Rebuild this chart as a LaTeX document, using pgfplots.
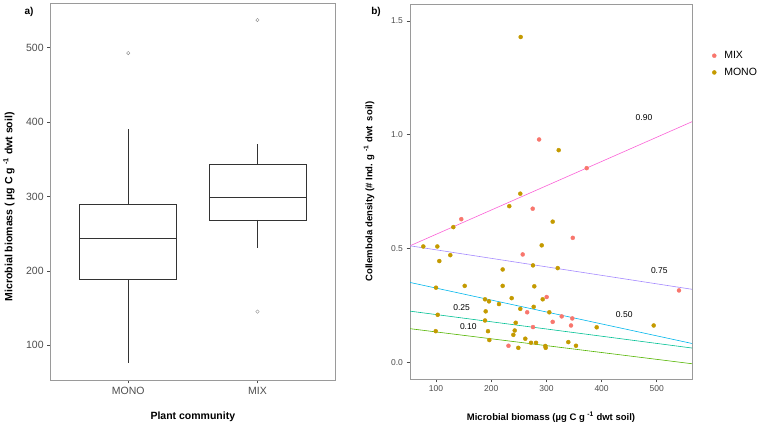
\documentclass[border=0pt]{standalone}
\usepackage{fontspec}
\setmainfont{Liberation Sans}
\usepackage{pgfplots}
\pgfplotsset{compat=1.18}
\usepgfplotslibrary{statistics}
\definecolor{mixc}{HTML}{F8766D}
\definecolor{monoc}{HTML}{C49A00}
\definecolor{qa}{HTML}{53B400}
\definecolor{qb}{HTML}{00C094}
\definecolor{qc}{HTML}{00B6EB}
\definecolor{qd}{HTML}{A58AFF}
\definecolor{qe}{HTML}{FB61D7}
\definecolor{tickc}{HTML}{4D4D4D}
\definecolor{framec}{HTML}{9A9A9A}
\definecolor{boxc}{HTML}{333333}

\pgfplotsset{
  ggstyle/.style={
    scale only axis,
    axis line style={framec, line width=0.8pt},
    tick align=outside,
    major tick length=3.5pt,
    tick style={color=black!70, line width=0.6pt},
    xtick pos=bottom, ytick pos=left,
    /pgf/number format/assume math mode=true,
    tick label style={color=tickc},
    label style={font=\bfseries\fontsize{10.5}{12}\selectfont},
  }
}

\pgfplotstableread{
x y
145.8 0.629
275.2 0.675
257.1 0.474
300.5 0.287
265.2 0.220
311.4 0.178
327.7 0.202
346.9 0.193
344.6 0.162
275.7 0.155
231.3 0.073
347.8 0.547
286.8 0.979
373.0 0.853
540.2 0.316
}\mixdata

\pgfplotstableread{
x y
232.8 0.686
311.4 0.618
131.4 0.594
77.0 0.509
102.4 0.509
291.5 0.514
125.9 0.471
106.0 0.445
275.7 0.426
320.5 0.414
220.8 0.408
100.0 0.328
152.0 0.336
220.8 0.336
278.1 0.334
237.1 0.282
188.8 0.277
196.0 0.268
293.3 0.277
214.1 0.256
277.0 0.244
252.7 0.235
190.0 0.224
305.3 0.220
103.1 0.209
188.8 0.184
244.4 0.174
194.2 0.137
99.5 0.137
242.6 0.140
240.1 0.121
261.8 0.104
196.6 0.098
272.1 0.086
281.2 0.086
249.1 0.064
298.0 0.072
298.7 0.064
339.7 0.089
353.6 0.073
391.1 0.154
494.4 0.162
253.4 1.429
322.3 0.932
252.7 0.741
}\monodata

\begin{document}
\begin{tikzpicture}
\useasboundingbox (0,0) rectangle (766pt,427pt);

\node[font=\bfseries\fontsize{10}{12}\selectfont] at (29pt,415pt) {a)};
\node[font=\bfseries\fontsize{10}{12}\selectfont] at (376pt,415pt) {b)};

\begin{axis}[ggstyle,
  at={(50.7pt,47pt)}, anchor=south west,
  width=284.3pt, height=376.7pt,
  xmin=0.4, xmax=2.6, ymin=53.4, ymax=559.7,
  xtick={1,2}, xticklabels={MONO,MIX},
  ytick={100,200,300,400,500},
  tick label style={font=\fontsize{10.5}{12}\selectfont},
  xlabel={Plant community},
  ylabel={Microbial biomass ( µg C g \textsuperscript{-1} dwt soil)},
  ylabel style={at={(axis description cs:-0.147,0.46)}, anchor=center},
  xlabel style={at={(axis description cs:0.5,-0.098)}, anchor=center},
  boxplot/draw direction=y,
]
\addplot[boxc, line width=0.7pt, mark=o, mark size=1.7pt,
  mark options={color=black!45, line width=0.4pt},
  boxplot prepared={draw position=1, box extend=0.75, whisker extend=0,
    lower whisker=75.8, lower quartile=189,
    median=243.5, upper quartile=290, upper whisker=390.6}]
  table[row sep=\\, y index=0] {data\\ 492.8\\};
\addplot[boxc, line width=0.7pt, mark=o, mark size=1.7pt,
  mark options={color=black!45, line width=0.4pt},
  boxplot prepared={draw position=2, box extend=0.75, whisker extend=0,
    lower whisker=230.5, lower quartile=268.6,
    median=298.7, upper quartile=343.5, upper whisker=370.9}]
  table[row sep=\\, y index=0] {data\\ 537.2\\ 145.3\\};
\end{axis}

\begin{axis}[ggstyle,
  at={(410pt,48pt)}, anchor=south west,
  width=282pt, height=375pt,
  xmin=52.9, xmax=563.8, ymin=-0.073, ymax=1.574,
  xtick={100,200,300,400,500},
  ytick={0,0.5,1,1.5},
  yticklabel style={/pgf/number format/.cd, fixed, fixed zerofill, precision=1},
  tick label style={font=\fontsize{8.5}{10}\selectfont},
  label style={font=\bfseries\fontsize{9.5}{11}\selectfont},
  xlabel={Microbial biomass (µg C g \textsuperscript{-1} dwt soil)},
  ylabel={Collembola density (\# Ind. g \textsuperscript{-1} dwt \ soil)},
  ylabel style={at={(axis description cs:-0.145,0.5)}, anchor=center},
  xlabel style={at={(axis description cs:0.5,-0.103)}, anchor=center},
  legend style={at={(axis description cs:1.05,0.885)}, anchor=north west,
    draw=none, fill=none, font=\fontsize{10.5}{12}\selectfont,
    row sep=4pt},
  legend cell align=left,
  legend image code/.code={\draw[#1] plot coordinates {(0pt,0pt)};
    \path[draw=none, fill=none] (-5pt,-3pt) rectangle (8pt,3pt);},
]
\addplot[only marks, mark=*, mark size=2pt, color=mixc] table[x=x, y=y] {\mixdata};
\addlegendentry{MIX}
\addplot[only marks, mark=*, mark size=2pt, color=monoc] table[x=x, y=y] {\monodata};
\addlegendentry{MONO}
\addplot[qe, line width=0.6pt, forget plot] coordinates {(52.9,0.512) (563.8,1.057)};
\addplot[qd, line width=0.6pt, forget plot] coordinates {(52.9,0.512) (563.8,0.321)};
\addplot[qc, line width=0.6pt, forget plot] coordinates {(52.9,0.351) (563.8,0.083)};
\addplot[qb, line width=0.6pt, forget plot] coordinates {(52.9,0.225) (563.8,0.063)};
\addplot[qa, line width=0.6pt, forget plot] coordinates {(52.9,0.148) (563.8,-0.006)};
\node[font=\fontsize{8.5}{10}\selectfont] at (axis cs:476.8,1.073) {0.90};
\node[font=\fontsize{8.5}{10}\selectfont] at (axis cs:504.5,0.402) {0.75};
\node[font=\fontsize{8.5}{10}\selectfont] at (axis cs:441,0.211) {0.50};
\node[font=\fontsize{8.5}{10}\selectfont] at (axis cs:146.5,0.242) {0.25};
\node[font=\fontsize{8.5}{10}\selectfont] at (axis cs:158.5,0.156) {0.10};
\end{axis}
\end{tikzpicture}
\end{document}
